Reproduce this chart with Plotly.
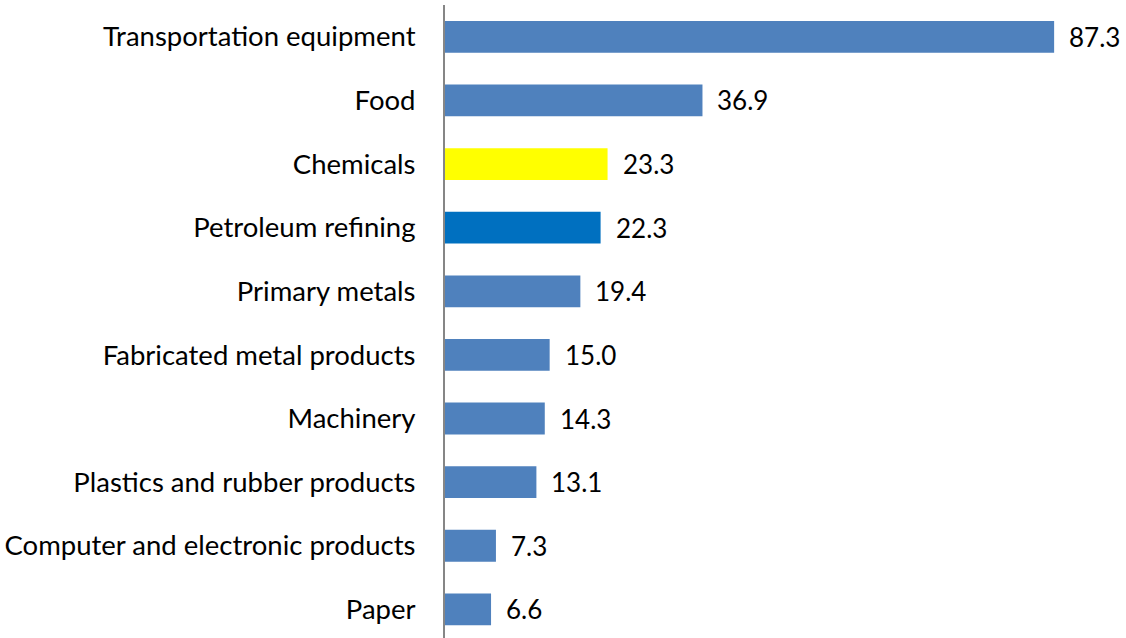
import plotly.graph_objects as go

categories = [
    "Transportation equipment",
    "Food",
    "Chemicals",
    "Petroleum refining",
    "Primary metals",
    "Fabricated metal products",
    "Machinery",
    "Plastics and rubber products",
    "Computer and electronic products",
    "Paper",
]
values = [87.3, 36.9, 23.3, 22.3, 19.4, 15.0, 14.3, 13.1, 7.3, 6.6]
bar_colors = [
    "#4F81BD", "#4F81BD", "#FFFF00", "#0070C0", "#4F81BD",
    "#4F81BD", "#4F81BD", "#4F81BD", "#4F81BD", "#4F81BD",
]

FONT = "Lato"

fig = go.Figure(
    go.Bar(
        x=values,
        y=categories,
        orientation="h",
        marker=dict(color=bar_colors, line=dict(width=0)),
        width=0.5,
        hoverinfo="skip",
    )
)

# value labels to the right of each bar
for cat, v in zip(categories, values):
    fig.add_annotation(
        x=v, y=cat, text=f"{v:.1f}", showarrow=False,
        xanchor="left", yanchor="middle", xshift=13,
        font=dict(family=FONT, size=26, color="#000000"),
    )

fig.update_layout(
    width=1126,
    height=638,
    margin=dict(l=445, r=0, t=5, b=0),
    paper_bgcolor="white",
    plot_bgcolor="white",
    showlegend=False,
    font=dict(family=FONT, size=26, color="#000000"),
)
fig.update_xaxes(
    range=[0, 97.6],
    visible=False,
    showgrid=False,
    zeroline=False,
)
fig.update_yaxes(
    type="category",
    range=[9.45, -0.5],
    showgrid=False,
    zeroline=False,
    showline=True,
    linecolor="#868686",
    linewidth=2,
    ticks="",
    ticklabelstandoff=22,
    tickfont=dict(family=FONT, size=27.5, color="#000000"),
)

fig.write_html("out.html")
